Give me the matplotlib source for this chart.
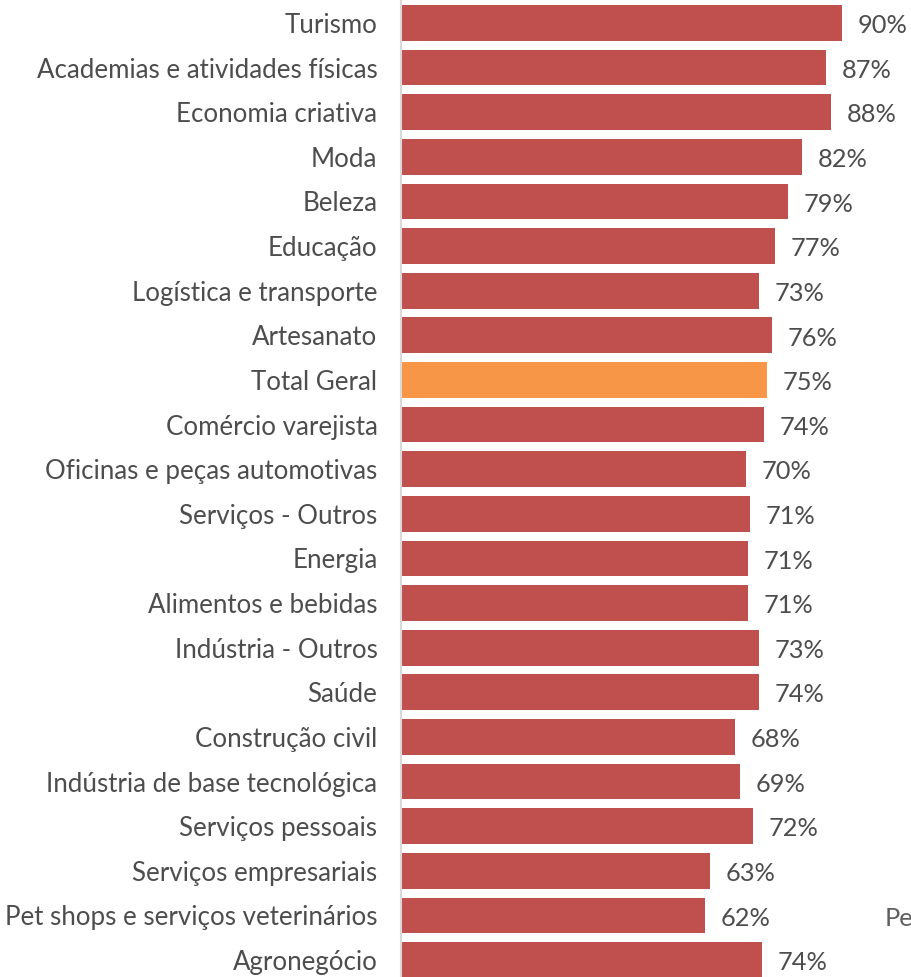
import matplotlib
matplotlib.use('Agg')
import matplotlib.pyplot as plt

categorias = ['Turismo', 'Academias e atividades físicas', 'Economia criativa', 'Moda',
              'Beleza', 'Educação', 'Logística e transporte', 'Artesanato', 'Total Geral',
              'Comércio varejista', 'Oficinas e peças automotivas', 'Serviços - Outros',
              'Energia', 'Alimentos e bebidas', 'Indústria - Outros', 'Saúde',
              'Construção civil', 'Indústria de base tecnológica', 'Serviços pessoais',
              'Serviços empresariais', 'Pet shops e serviços veterinários', 'Agronegócio']
valores = [90.0, 86.7, 87.8, 81.8, 79.0, 76.3, 73.1, 75.7, 74.7, 74.1, 70.4, 71.2,
           70.8, 70.8, 73.1, 73.1, 68.2, 69.2, 71.8, 63.1, 62.0, 73.7]
rotulos = ['90%', '87%', '88%', '82%', '79%', '77%', '73%', '76%', '75%', '74%', '70%', '71%',
           '71%', '71%', '73%', '74%', '68%', '69%', '72%', '63%', '62%', '74%']

plt.rcParams['font.family'] = ['Lato', 'DejaVu Sans']
cor_texto = '#4D4D4D'

W, H = 912, 977
fig = plt.figure(figsize=(W / 100, H / 100), dpi=100)
# eixo: x=0 em 401px, 4.9 px por ponto percentual; linhas de 44.6 px
x0 = 401
top = 0.7
bot = 982.3
ax = fig.add_axes([x0 / W, 1 - bot / H, 1 - x0 / W, (bot - top) / H])

cores = ['#F79646' if c == 'Total Geral' else '#C0504D' for c in categorias]
y = list(range(len(categorias)))
ax.barh(y, valores, height=0.8, color=cores)
ax.set_ylim(len(categorias) - 0.5, -0.5)
ax.set_xlim(0, (W - x0) / 4.9)

for yi, v, r in zip(y, valores, rotulos):
    ax.text(v + 3.2, yi + 0.06, r, va='center', ha='left', fontsize=18.3, color=cor_texto)

ax.text((885 - x0) / 4.9, 20 + 0.06, 'Pe', va='center', ha='left', fontsize=18.3, color='#5F5F5F')

ax.set_yticks(y)
ax.set_yticklabels(categorias, fontsize=18.6, color=cor_texto)
ax.tick_params(axis='y', length=0, pad=17)
ax.set_xticks([])
for s in ['top', 'right', 'bottom']:
    ax.spines[s].set_visible(False)
ax.spines['left'].set_color('#D9D9D9')
ax.spines['left'].set_linewidth(1.5)

fig.savefig('out.png', dpi=100)
